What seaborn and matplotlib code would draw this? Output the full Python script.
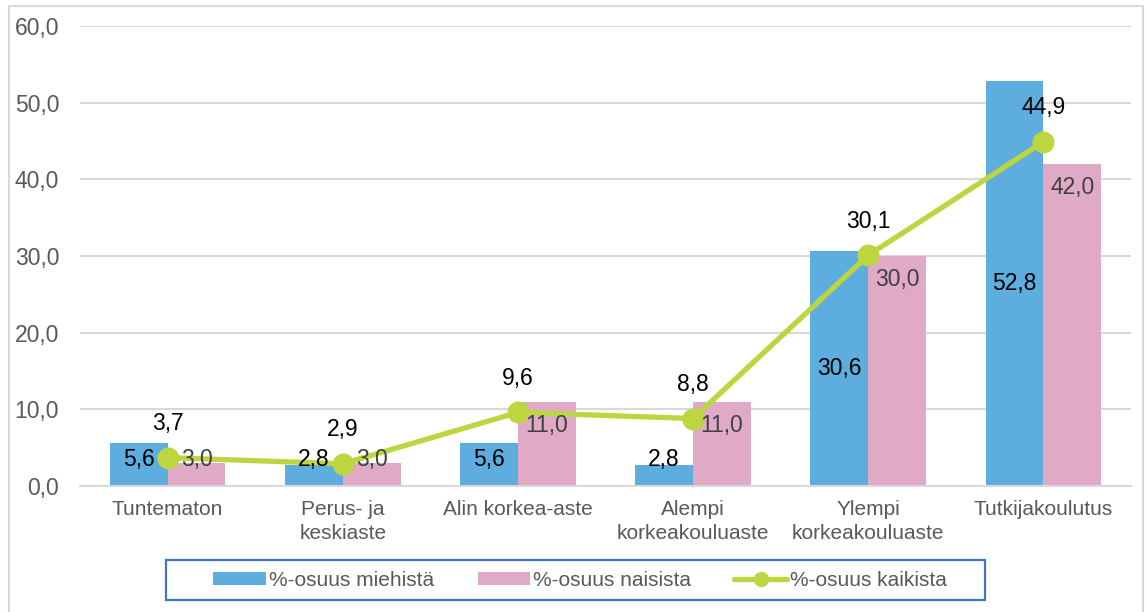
import numpy as np
import pandas as pd
import matplotlib
matplotlib.use("Agg")
import matplotlib.pyplot as plt
from matplotlib.patches import Patch, Rectangle
from matplotlib.lines import Line2D
from matplotlib.ticker import FuncFormatter, MultipleLocator
import seaborn as sns

# Education level categories
categories = ["Tuntematon", "Perus- ja\nkeskiaste", "Alin korkea-aste",
              "Alempi\nkorkeakouluaste", "Ylempi\nkorkeakouluaste", "Tutkijakoulutus"]
men = [5.6, 2.8, 5.6, 2.8, 30.6, 52.8]
women = [3.0, 3.0, 11.0, 11.0, 30.0, 42.0]
total = [3.7, 2.9, 9.6, 8.8, 30.1, 44.9]
series_names = ["%-osuus miehistä", "%-osuus naisista", "%-osuus kaikista"]

BLUE = "#5DADDF"
PINK = "#E0A9C6"
GREEN = "#BDD63F"
GRID = "#D9D9D9"
TICK = "#595959"

sns.set_theme(style="white")
plt.rcParams["font.family"] = ["Liberation Sans", "DejaVu Sans"]


def fmt(v):
    return f"{v:.1f}".replace(".", ",")


df = pd.DataFrame({
    "cat": categories * 2,
    "val": men + women,
    "series": [series_names[0]] * len(categories) + [series_names[1]] * len(categories),
})

fig = plt.figure(figsize=(11.47, 6.12), dpi=100)
ax = fig.add_axes([80 / 1147, 1 - 486 / 612, (1131 - 80) / 1147, (486 - 26) / 612])

sns.barplot(data=df, x="cat", y="val", hue="series", order=categories,
            hue_order=series_names[:2], palette=[BLUE, PINK], width=0.66,
            gap=0, saturation=1, legend=False, linewidth=0, ax=ax, zorder=2)

sns.pointplot(x=categories, y=total, order=categories, color=GREEN,
              markers="o", markersize=13, linewidth=3.8, errorbar=None, ax=ax)
for coll in ax.collections:
    coll.set_zorder(5)
for ln in ax.lines:
    ln.set_zorder(4)

ax.set_ylim(0, 60)
ax.set_xlim(-0.5, len(categories) - 0.5)
ax.yaxis.set_major_locator(MultipleLocator(10))
ax.yaxis.set_major_formatter(FuncFormatter(lambda v, p: fmt(v)))
ax.grid(axis="y", color=GRID, linewidth=1.5, zorder=0)
ax.set_axisbelow(True)
for s in ["left", "right", "top"]:
    ax.spines[s].set_visible(False)
ax.spines["bottom"].set_color(GRID)
ax.spines["bottom"].set_linewidth(1.5)
ax.set_xlabel("")
ax.set_ylabel("")
ax.tick_params(axis="y", length=0, pad=15, labelsize=16.5, labelcolor=TICK)
ax.tick_params(axis="x", length=0, pad=10, labelsize=15, labelcolor=TICK)
for lab in ax.get_xticklabels():
    lab.set_linespacing(1.35)
    lab.set_verticalalignment("top")

# Value labels
bw = 0.33
x = np.arange(len(categories))
for i in range(len(categories)):
    ax.text(x[i] - bw / 2, max(men[i] / 2, 3.4), fmt(men[i]), ha="center",
            va="center", fontsize=16.5, color="black", zorder=6)
    ax.text(x[i] + bw / 2, max(women[i] - 3.1, 3.4), fmt(women[i]), ha="center",
            va="center", fontsize=16.5, color="#404040", zorder=6)
    ax.annotate(fmt(total[i]), (x[i], total[i]), xytext=(0, 24.5),
                textcoords="offset points", ha="center", va="center",
                fontsize=16.5, color="black", zorder=6)

# Legend with its own frame
handles = [
    Patch(facecolor=BLUE, edgecolor="none"),
    Patch(facecolor=PINK, edgecolor="none"),
    Line2D([0], [0], color=GREEN, linewidth=3.8, marker="o", markersize=10),
]
fig.legend(handles, series_names, loc="center", ncol=3, frameon=False,
           bbox_to_anchor=(580 / 1147, 1 - 580 / 612), fontsize=15,
           handlelength=2.5, handleheight=0.6, handletextpad=0.15,
           columnspacing=2.1, labelcolor=TICK)
fig.add_artist(Rectangle((166 / 1147, 1 - 600 / 612), (985 - 166) / 1147, 40 / 612,
                         transform=fig.transFigure, fill=False,
                         edgecolor="#4472C4", linewidth=1.6))

# Chart area border
fig.add_artist(Rectangle((9 / 1147, -0.02), (1143 - 9) / 1147, 1 - 6 / 612 + 0.02,
                         transform=fig.transFigure, fill=False,
                         edgecolor=GRID, linewidth=1.5))

fig.savefig("out.png", dpi=100)
